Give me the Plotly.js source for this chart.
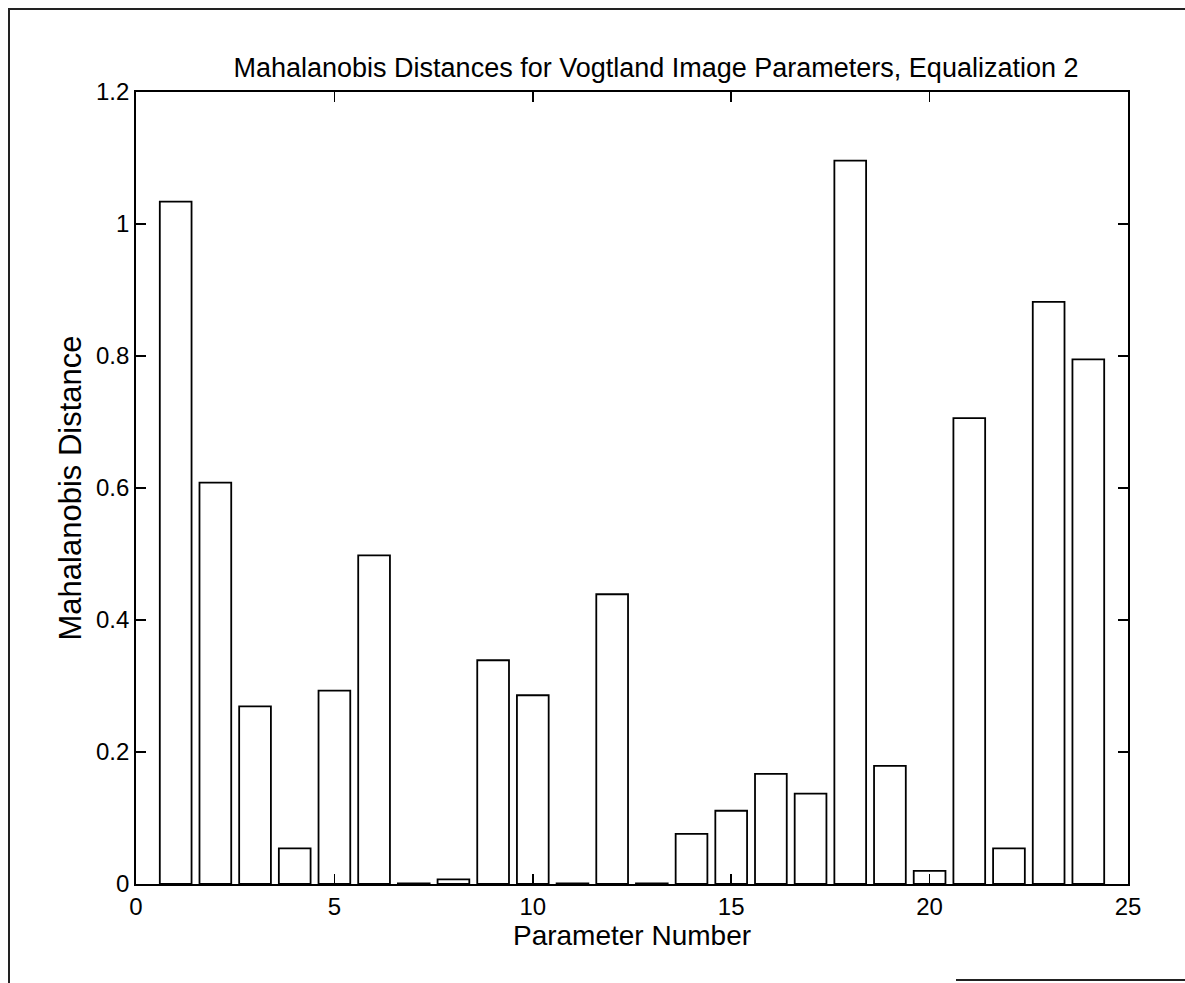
<!DOCTYPE html>
<html>
<head>
<meta charset="utf-8">
<script src="https://cdn.plot.ly/plotly-3.0.1.min.js"></script>
<style>
  html, body { margin: 0; padding: 0; background: #fff; }
  #wrap { position: relative; width: 1185px; height: 983px; overflow: hidden; }
  #chart { position: absolute; left: 0; top: 0; width: 1185px; height: 983px; }
  .edge { position: absolute; background: #222; }
</style>
</head>
<body>
<div id="wrap">
  <div id="chart"></div>
  <!-- page frame lines -->
  <div class="edge" style="left:8px; top:8px; width:2px; height:975px;"></div>
  <div class="edge" style="left:8px; top:8px; width:1177px; height:2px;"></div>
  <div class="edge" style="left:956px; top:979px; width:229px; height:2px;"></div>
</div>
<script>
// Parameter index on the x axis
const paramNumbers = [1, 2, 3, 4, 5, 6, 7, 8, 9, 10, 11, 12,
                      13, 14, 15, 16, 17, 18, 19, 20, 21, 22, 23, 24];

// Mahalanobis distance for each image parameter (equalization 2)
const distances = [1.034, 0.608, 0.269, 0.054, 0.293, 0.498, 0.001, 0.007,
                   0.339, 0.286, 0.001, 0.439, 0.001, 0.076, 0.111, 0.167,
                   0.137, 1.096, 0.179, 0.020, 0.706, 0.054, 0.882, 0.795];

const xTickVals = [0, 5, 10, 15, 20, 25];
const yTickVals = [0, 0.2, 0.4, 0.6, 0.8, 1.0, 1.2];
const yTickText = ['0', '0.2', '0.4', '0.6', '0.8', '1', '1.2'];

const fontFamily = '"Liberation Sans", Arial, Helvetica, sans-serif';

const trace = {
  type: 'bar',
  x: paramNumbers,
  y: distances,
  width: 0.8,
  marker: { color: '#ffffff', line: { color: '#000000', width: 1.8 } },
  hoverinfo: 'x+y'
};

const axisCommon = {
  showline: true,
  linecolor: '#000000',
  linewidth: 1.8,
  mirror: 'ticks',
  ticks: 'inside',
  ticklen: 10,
  tickwidth: 1.5,
  tickcolor: '#000000',
  showgrid: false,
  zeroline: false,
  tickfont: { family: fontFamily, size: 24, color: '#000000' }
};

const layout = {
  width: 1185,
  height: 983,
  margin: { l: 136, r: 57, t: 92, b: 99 },
  paper_bgcolor: '#ffffff',
  plot_bgcolor: '#ffffff',
  showlegend: false,
  bargap: 0,
  title: {
    text: 'Mahalanobis Distances for Vogtland Image Parameters, Equalization 2',
    font: { family: fontFamily, size: 27, color: '#000000' },
    x: 656 / 1185,
    xanchor: 'center',
    xref: 'container',
    y: 1 - 68 / 983,
    yanchor: 'middle',
    yref: 'container'
  },
  xaxis: Object.assign({}, axisCommon, {
    range: [0, 25],
    tickmode: 'array',
    tickvals: xTickVals,
    ticktext: xTickVals.map(String),
    title: { text: 'Parameter Number', font: { family: fontFamily, size: 28, color: '#000000' }, standoff: 2 }
  }),
  yaxis: Object.assign({}, axisCommon, {
    range: [0, 1.2],
    tickmode: 'array',
    tickvals: yTickVals,
    ticktext: yTickText,
    title: { text: 'Mahalanobis Distance', font: { family: fontFamily, size: 31, color: '#000000' }, standoff: 5 }
  })
};

Plotly.newPlot('chart', [trace], layout, { displayModeBar: false, staticPlot: true });
</script>
</body>
</html>
